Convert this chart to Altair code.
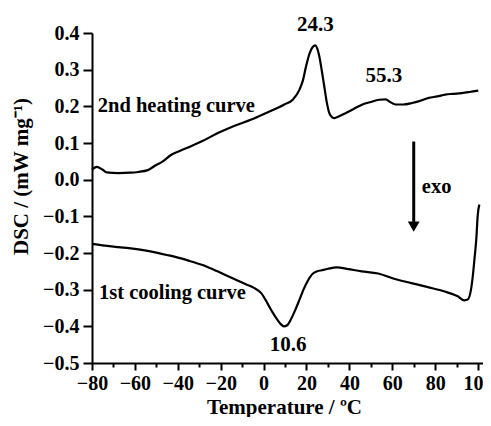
import altair as alt
import pandas as pd

# 2nd heating curve (temperature in degC, DSC in mW/mg)
heat_T = [-80, -77.8, -75, -73.2, -67.8, -62, -58.5, -54, -50.7, -47, -43, -36.7, -29, -21.3, -13.5,
          -5.7, 2, 7.4, 9.7, 13.6, 16.7, 18.3, 19.8, 21.5, 22.9, 24.1, 25, 26, 27.2, 28.3, 29.5, 30.6,
          32, 33, 35, 38.4, 42, 46.1, 50, 53.8, 56.9, 59, 61.5, 65, 69.2, 73, 77, 81, 84.7, 88, 92.4,
          96, 100.1]
heat_v = [0.027, 0.035, 0.027, 0.02, 0.018, 0.019, 0.021, 0.026, 0.038, 0.05, 0.068, 0.084, 0.104,
          0.127, 0.147, 0.164, 0.184, 0.198, 0.205, 0.218, 0.245, 0.27, 0.309, 0.345, 0.362, 0.366,
          0.358, 0.336, 0.295, 0.254, 0.21, 0.182, 0.17, 0.168, 0.172, 0.182, 0.193, 0.205, 0.212,
          0.218, 0.219, 0.212, 0.205, 0.205, 0.209, 0.215, 0.223, 0.227, 0.232, 0.234, 0.236, 0.239,
          0.243]

# 1st cooling curve
cool_T = [-80, -74, -67.8, -61, -55.4, -50, -44.6, -39, -33.8, -27, -21.5, -16, -12.2, -8, -4.5,
          -1, 1.7, 4, 6.4, 8, 9.5, 11, 13, 14.8, 16.7, 18.6, 20.5, 22.5, 25, 27.1, 30, 34.1, 39.5,
          45.7, 53.4, 61.2, 68.9, 76.6, 84.4, 90.5, 93.6, 95.2, 96.7, 97.6, 98.3, 99.2, 99.8, 100.6]
cool_v = [-0.175, -0.18, -0.184, -0.188, -0.193, -0.199, -0.206, -0.214, -0.223, -0.236, -0.25,
          -0.265, -0.275, -0.286, -0.295, -0.31, -0.336, -0.36, -0.382, -0.394, -0.4, -0.397,
          -0.378, -0.355, -0.328, -0.3, -0.277, -0.259, -0.25, -0.247, -0.243, -0.239, -0.244,
          -0.25, -0.256, -0.271, -0.282, -0.293, -0.305, -0.318, -0.329, -0.327, -0.3, -0.26,
          -0.218, -0.16, -0.1, -0.068]

# annotations
label_text = ["24.3", "55.3", "10.6"]
label_T = [24.2, 56.1, 11.4]
label_v = [0.423, 0.284, -0.45]

curve_text = ["2nd heating curve", "1st cooling curve", "exo"]
curve_T = [-77.3, -76.7, 73.8]
curve_v = [0.2, -0.309, -0.019]

arrow_T = [70]
arrow_top = [0.104]
arrow_bottom = [-0.115]
arrow_head = [-0.128]

x_ticks = list(range(-80, 101, 10))
y_ticks = [-0.5, -0.4, -0.3, -0.2, -0.1, 0.0, 0.1, 0.2, 0.3, 0.4]

FONT = "Liberation Serif"

heat = pd.DataFrame({"T": heat_T, "v": heat_v, "curve": "heat"})
cool = pd.DataFrame({"T": cool_T, "v": cool_v, "curve": "cool"})
curves = pd.concat([heat, cool])

xscale = alt.Scale(domain=[-80, 102.3], nice=False, zero=False)
yscale = alt.Scale(domain=[-0.5, 0.4], nice=False, zero=False)

xaxis = alt.Axis(
    values=x_ticks,
    labelExpr="datum.value % 20 === 0 ? format(datum.value, 'd') : ''",
    tickSize=alt.ExprRef(expr="datum.value % 20 === 0 ? 7 : 4"),
    title="Temperature / ºC",
    titleX=192, titleY=50, titleBaseline="alphabetic", titleAlign="center",
    labelPadding=3, grid=False, labelOverlap=False, labelFlush=False,
)
yaxis = alt.Axis(
    values=y_ticks,
    labelExpr="format(datum.value, '.1f')",
    tickSize=9, labelPadding=4, grid=False, labelOverlap=False, labelFlush=False,
    title="DSC / (mW mg⁻¹)",
    titleAngle=270, titleX=-71, titleY=143, titleAlign="center", titleBaseline="middle",
)


def X(field):
    return alt.X(field, type="quantitative", scale=xscale, axis=xaxis)


def Y(field):
    return alt.Y(field, type="quantitative", scale=yscale, axis=yaxis)


lines = alt.Chart(curves).mark_line(color="black", strokeWidth=2.2, interpolate="monotone").encode(
    x=X("T"), y=Y("v"), detail="curve:N",
)

peaks = alt.Chart(pd.DataFrame({"t": label_text, "T": label_T, "v": label_v})).mark_text(
    font=FONT, fontWeight="bold", fontSize=21, align="center", baseline="middle", color="black"
).encode(x=X("T"), y=Y("v"), text="t:N")

names = alt.Chart(pd.DataFrame({"t": curve_text, "T": curve_T, "v": curve_v})).mark_text(
    font=FONT, fontWeight="bold", fontSize=20.5, align="left", baseline="middle", color="black"
).encode(x=X("T"), y=Y("v"), text="t:N")

arrow_df = pd.DataFrame({"T": arrow_T, "top": arrow_top, "bot": arrow_bottom, "head": arrow_head})
shaft = alt.Chart(arrow_df).mark_rule(color="black", strokeWidth=3).encode(
    x=X("T"), y=Y("top"), y2="bot:Q"
)
head = alt.Chart(arrow_df).mark_point(
    shape="triangle-down", filled=True, color="black", size=140, opacity=1
).encode(x=X("T"), y=Y("head"))

chart = alt.layer(lines, peaks, names, shaft, head).properties(
    width=391, height=330,
    autosize=alt.AutoSizeParams(type="none"),
    padding={"left": 84, "top": 25, "right": 0, "bottom": 54},
).configure_view(stroke=None).configure_axis(
    domainColor="black", domainWidth=2, tickColor="black", tickWidth=2,
    labelFont=FONT, labelFontWeight="bold", labelFontSize=20, labelColor="black",
    titleFont=FONT, titleFontWeight="bold", titleFontSize=21, titleColor="black",
    labelOverlap=False,
)

chart.save("out.html", embed_options={"renderer": "svg", "actions": False})
